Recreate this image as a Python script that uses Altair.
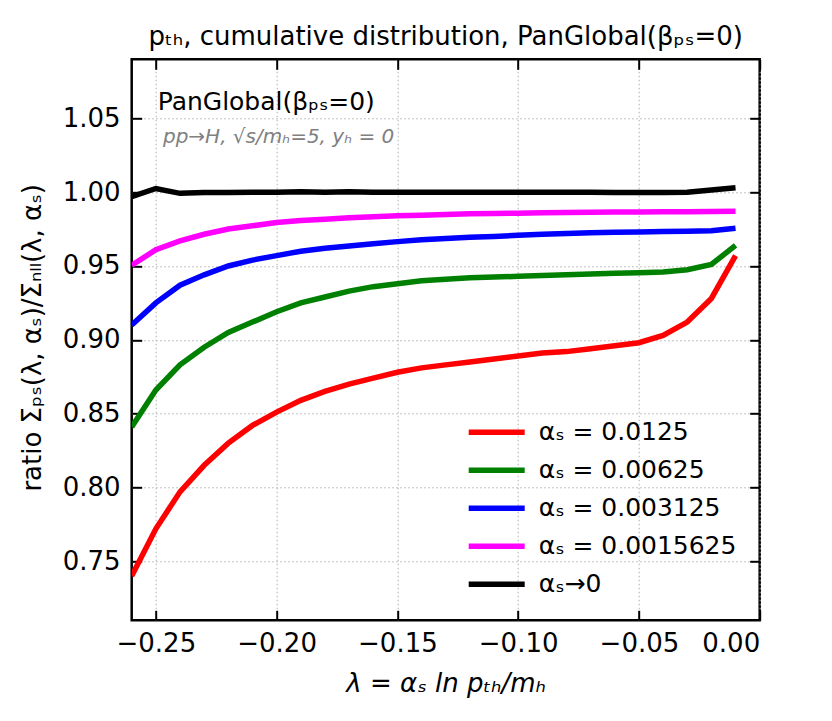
import altair as alt
import pandas as pd

# ---- data ----
lam = [-0.26, -0.25, -0.24, -0.23, -0.22, -0.21, -0.20, -0.19, -0.18, -0.17,
       -0.16, -0.15, -0.14, -0.13, -0.12, -0.11, -0.10, -0.09, -0.08, -0.07,
       -0.06, -0.05, -0.04, -0.03, -0.02, -0.01]

red = [0.740, 0.772, 0.797, 0.815, 0.830, 0.842, 0.851, 0.859, 0.865, 0.870,
       0.874, 0.878, 0.881, 0.883, 0.885, 0.887, 0.889, 0.891, 0.892, 0.894,
       0.896, 0.898, 0.903, 0.912, 0.928, 0.957]

green = [0.841, 0.866, 0.883, 0.895, 0.905, 0.912, 0.919, 0.925, 0.929, 0.933,
         0.936, 0.938, 0.940, 0.941, 0.942, 0.9425, 0.943, 0.9435, 0.944, 0.9445,
         0.945, 0.9455, 0.946, 0.9475, 0.951, 0.964]

blue = [0.910, 0.925, 0.937, 0.944, 0.950, 0.954, 0.957, 0.960, 0.962, 0.9636,
        0.965, 0.9665, 0.9677, 0.9686, 0.9695, 0.970, 0.9708, 0.9715, 0.972, 0.9725,
        0.9728, 0.973, 0.9733, 0.9735, 0.9738, 0.9756]

magenta = [0.9505, 0.961, 0.967, 0.9715, 0.975, 0.9772, 0.9795, 0.9808, 0.9817, 0.9826,
           0.9833, 0.984, 0.9844, 0.9849, 0.9853, 0.9856, 0.9858, 0.986, 0.9862, 0.9864,
           0.9865, 0.9866, 0.9867, 0.9868, 0.9869, 0.987]

black = [0.997, 1.0025, 0.9992, 0.9997, 0.9998, 1.0000, 1.0000, 1.0002, 1.0000, 1.0003,
         1.0000, 1.0000, 1.0000, 1.0000, 1.0000, 1.0000, 1.0000, 1.0000, 1.0000, 1.0000,
         0.9998, 0.9998, 0.9998, 1.0000, 1.0015, 1.003]

series_labels = ["αₛ = 0.0125", "αₛ = 0.00625", "αₛ = 0.003125",
                 "αₛ = 0.0015625", "αₛ→0"]
series_colors = ["#ff0000", "#008000", "#0000ff", "#ff00ff", "#000000"]

x_ticks = [-0.25, -0.20, -0.15, -0.10, -0.05, 0.00]
y_ticks = [0.75, 0.80, 0.85, 0.90, 0.95, 1.00, 1.05]

title_text = "pₜₕ, cumulative distribution, PanGlobal(βₚₛ=0)"
x_title = "λ = αₛ ln pₜₕ/mₕ"
y_title = "ratio Σₚₛ(λ, αₛ)/Σₙₗₗ(λ, αₛ)"
note1 = "PanGlobal(βₚₛ=0)"
note2 = "pp→H, √s/mₕ=5, yₕ = 0"

rows = []
for lab, ys in zip(series_labels, [red, green, blue, magenta, black]):
    for xv, yv in zip(lam, ys):
        rows.append({"lam": xv, "ratio": yv, "series": lab})
df = pd.DataFrame(rows)

W, H = 628, 561
FONT = "DejaVu Sans"

xscale = alt.Scale(domain=[-0.26, 0.0], nice=False, zero=False)
yscale = alt.Scale(domain=[0.71, 1.09], nice=False, zero=False)

grid_kw = dict(grid=True, gridDash=[1.5, 2.5], gridColor="#b0b0b0", gridWidth=1)

lines = alt.Chart(df).mark_line(strokeWidth=5.5, clip=True).encode(
    x=alt.X("lam:Q", scale=xscale,
            axis=alt.Axis(orient="bottom", values=x_ticks, format=".2f",
                          ticks=False, domain=False, labelFontSize=26,
                          labelPadding=10, labelColor="black", labelFont=FONT,
                          title=x_title, titleFontSize=26, titleFontStyle="italic",
                          titleFontWeight="normal", titleFont=FONT, titleColor="black",
                          titleX=W / 2, titleY=63, titleBaseline="middle",
                          titleAlign="center", **grid_kw)),
    y=alt.Y("ratio:Q", scale=yscale,
            axis=alt.Axis(orient="left", values=y_ticks, format=".2f",
                          ticks=False, domain=False, labelFontSize=26,
                          labelPadding=11.7, labelColor="black", labelFont=FONT,
                          title=y_title, titleFontSize=26, titleFontWeight="normal",
                          titleFont=FONT, titleColor="black",
                          titleX=-98.7, titleY=278, titleBaseline="middle",
                          titleAlign="center", titleAngle=270, **grid_kw)),
    color=alt.Color("series:N",
                    scale=alt.Scale(domain=series_labels, range=series_colors),
                    legend=alt.Legend(orient="none", legendX=334, legendY=354,
                                      title=None, symbolType="stroke",
                                      symbolSize=3136, symbolStrokeWidth=5.5,
                                      labelFontSize=25, labelFont=FONT,
                                      labelColor="black", labelOffset=11,
                                      labelLimit=400, rowPadding=0,
                                      clipHeight=37.9, padding=0)),
)

tick_kw = dict(labels=False, domain=False, grid=False, ticks=True, tickSize=10,
               tickWidth=2, tickColor="black", offset=-10, title=None)

ticks_bl = alt.Chart(df).mark_point(opacity=0).encode(
    x=alt.X("lam:Q", scale=xscale, axis=alt.Axis(orient="bottom", values=x_ticks, **tick_kw)),
    y=alt.Y("ratio:Q", scale=yscale, axis=alt.Axis(orient="left", values=y_ticks, **tick_kw)),
)
ticks_tr = alt.Chart(df).mark_point(opacity=0).encode(
    x=alt.X("lam:Q", scale=xscale, axis=alt.Axis(orient="top", values=x_ticks, **tick_kw)),
    y=alt.Y("ratio:Q", scale=yscale, axis=alt.Axis(orient="right", values=y_ticks, **tick_kw)),
)

txt1 = alt.Chart(pd.DataFrame({"t": [note1]})).mark_text(
    align="left", baseline="middle", fontSize=25, font=FONT, color="black"
).encode(text="t:N", x=alt.value(26), y=alt.value(42.4))

txt2 = alt.Chart(pd.DataFrame({"t": [note2]})).mark_text(
    align="left", baseline="middle", fontSize=20, font=FONT, color="#808080",
    fontStyle="italic"
).encode(text="t:N", x=alt.value(31.3), y=alt.value(77.4))

chart = alt.layer(lines, ticks_bl, ticks_tr, txt1, txt2).resolve_axis(
    x="independent", y="independent"
).properties(
    width=W, height=H,
    autosize=alt.AutoSizeParams(type="none"),
    padding={"left": 123.7, "top": 51.3, "right": 64, "bottom": 90},
    title=alt.TitleParams(text=title_text, fontSize=26, fontWeight="normal",
                          font=FONT, color="black", anchor="middle", offset=8),
).configure_view(
    stroke="black", strokeWidth=2.5
)

chart.save("out.html", embed_options={"renderer": "svg", "actions": False})
